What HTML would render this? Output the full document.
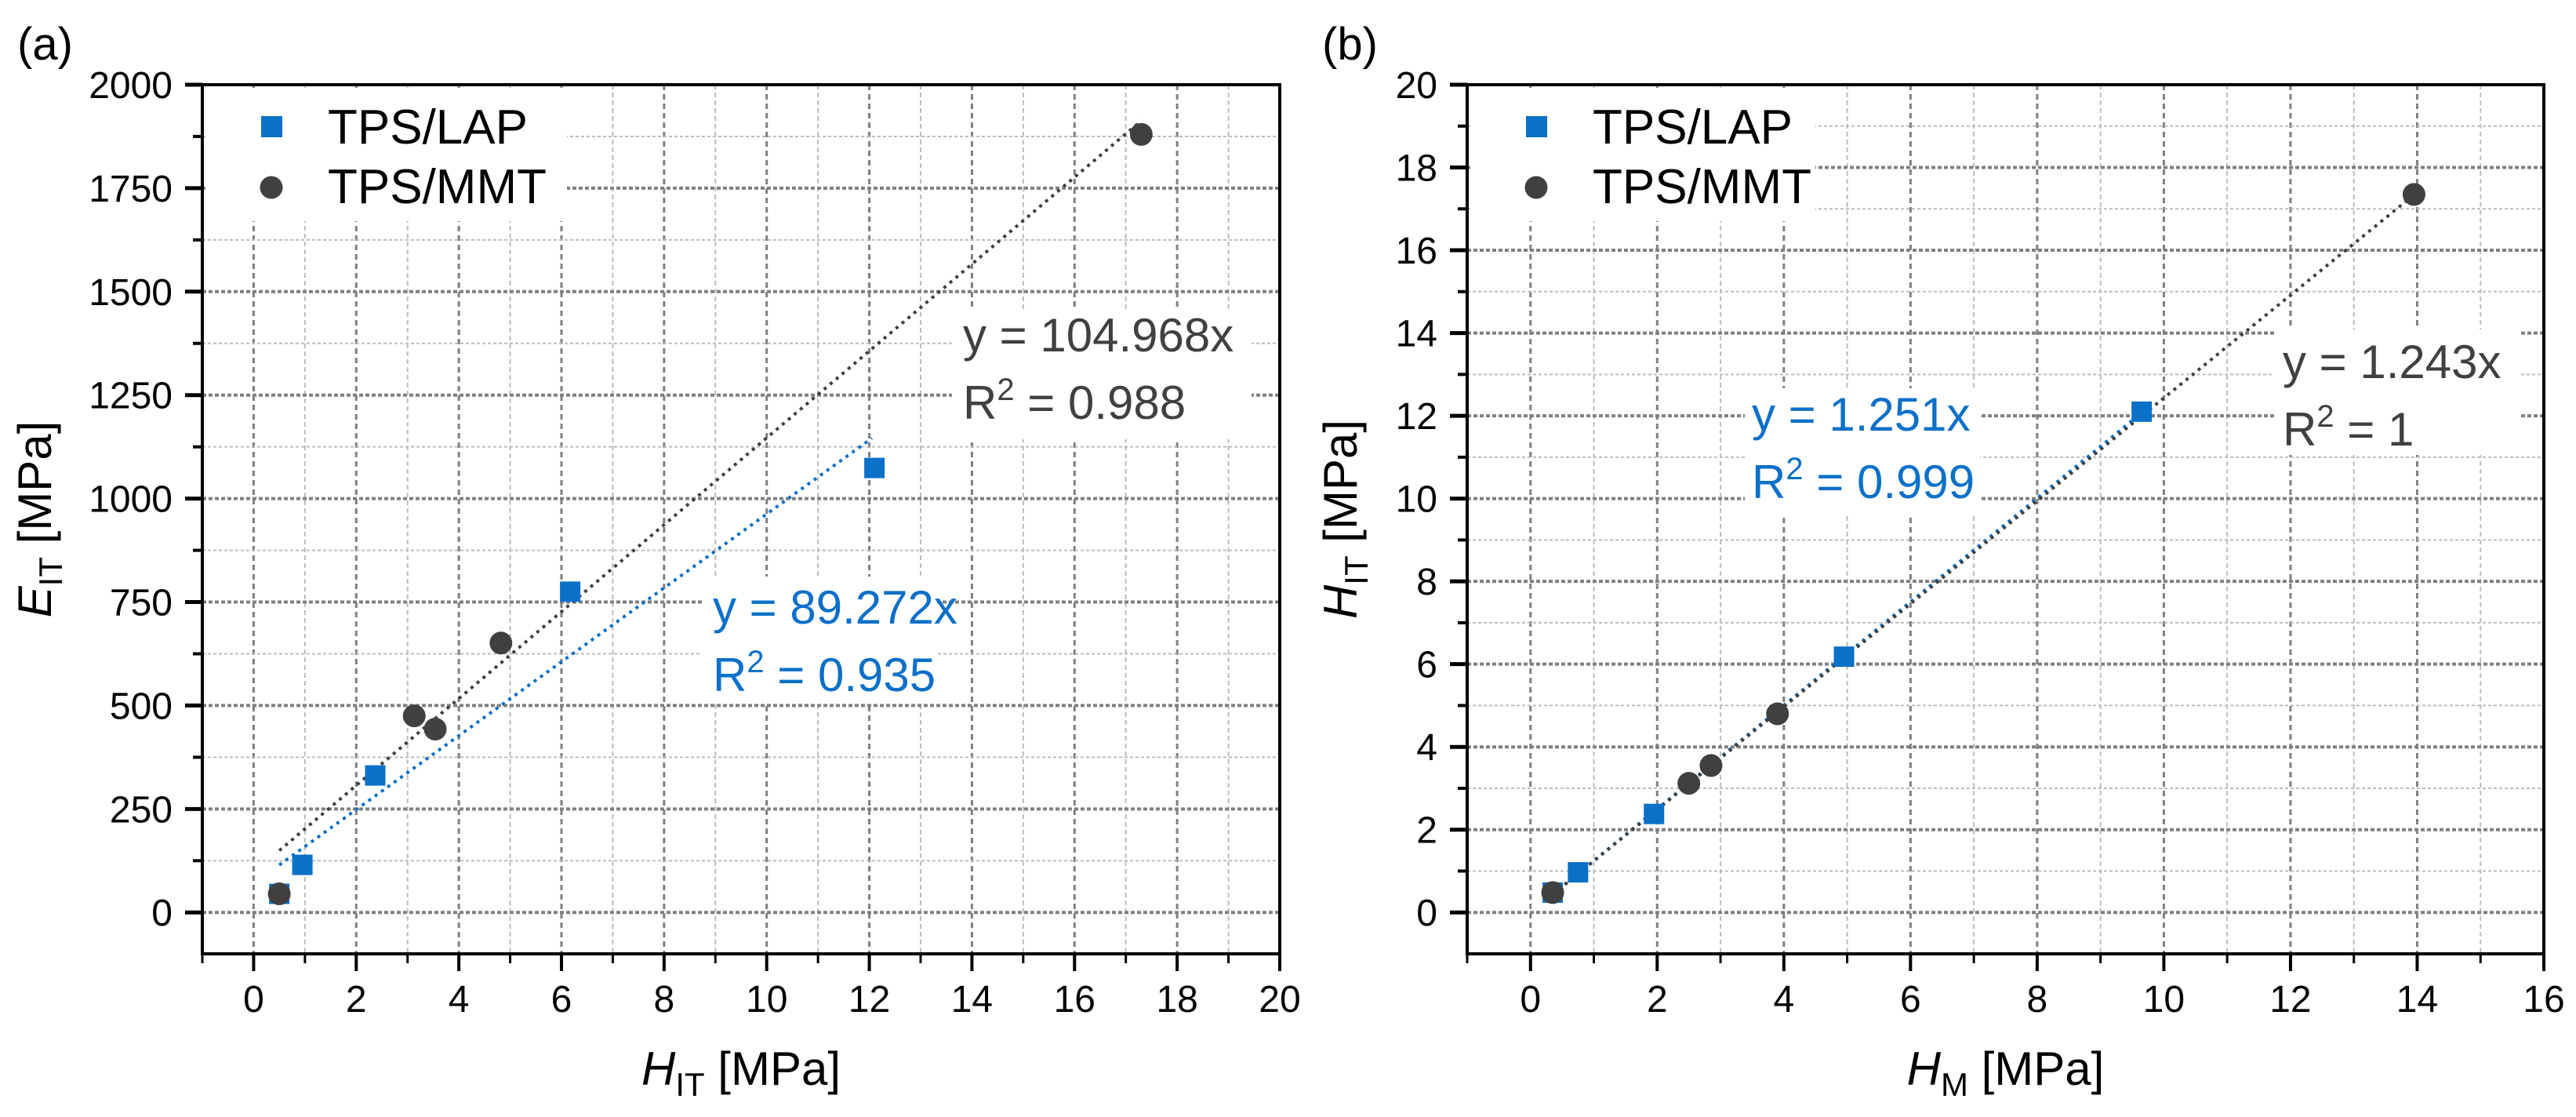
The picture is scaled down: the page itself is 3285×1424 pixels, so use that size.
<!DOCTYPE html>
<html><head><meta charset="utf-8"><style>
html,body{margin:0;padding:0;background:#fff;}
svg{display:block;font-family:"Liberation Sans",Arial,sans-serif;}
</style></head><body>
<svg id="chart" width="3285" height="1424" viewBox="0 0 3285 1424" xmlns="http://www.w3.org/2000/svg">
<rect x="0" y="0" width="3285" height="1424" fill="#fff"/>
<g id="pa"></g>
<g id="pb"></g>
</svg>
<script>
// Panel (a) data
const aLapX = [0.5, 0.95, 2.37, 6.17, 12.1];
const aLapY = [45, 115, 331, 775, 1074];
const aMmtX = [0.5, 3.13, 3.54, 4.82, 17.3];
const aMmtY = [45, 475, 443, 651, 1880];
const aFitLap = [89.272, 70, 0.5, 12.05];   // slope, intercept, xStart, xEnd
const aFitMmt = [104.968, 97, 0.5, 17.3];
const aXTicks = [0,2,4,6,8,10,12,14,16,18,20];
const aYTicks = [0,250,500,750,1000,1250,1500,1750,2000];
// Panel (b) data
const bLapX = [0.35, 0.75, 1.95, 4.95, 9.65];
const bLapY = [0.48, 0.97, 2.38, 6.18, 12.1];
const bMmtX = [0.35, 2.5, 2.85, 3.9, 13.95];
const bMmtY = [0.48, 3.12, 3.55, 4.8, 17.35];
const bFitLap = [1.251, 0, 0.35, 9.65];
const bFitMmt = [1.243, 0, 0.35, 13.95];
const bXTicks = [0,2,4,6,8,10,12,14,16];
const bYTicks = [0,2,4,6,8,10,12,14,16,18,20];

const NS='http://www.w3.org/2000/svg';
const BLUE='#0a70c8', DARK='#404040';
function mk(tag, attrs, parent){const e=document.createElementNS(NS,tag);for(const k in attrs)e.setAttribute(k,attrs[k]);parent.appendChild(e);return e;}

function panel(g, cfg){
  const L=cfg.L,R=cfg.R,T=108,B=1216;
  const sx=v=>L+(v-cfg.x0)/(cfg.x1-cfg.x0)*(R-L);
  const sy=v=>B-(v-cfg.y0)/(cfg.y1-cfg.y0)*(B-T);
  const xs=cfg.xTicks, ys=cfg.yTicks;
  const dx=xs[1]-xs[0], dy=ys[1]-ys[0];
  for(let i=0;i<xs.length;i++){
    const v=xs[i];
    let l=mk('line',{x1:sx(v),x2:sx(v),y1:T,y2:B,stroke:'#808080','stroke-width':3,'stroke-dasharray':'7 5'},g);
    
    
    const m=v+dx/2;
    if(m<cfg.x1){
      let l2=mk('line',{x1:sx(m),x2:sx(m),y1:T,y2:B,stroke:'#bdbdbd','stroke-width':2,'stroke-dasharray':'6 4'},g);
      
      
    }
  }
  for(let i=0;i<ys.length;i++){
    const v=ys[i];
    let l=mk('line',{x1:L,x2:R,y1:sy(v),y2:sy(v),stroke:'#808080','stroke-width':4,'stroke-dasharray':'5 3'},g);
    
    
    const m=v+dy/2;
    if(m<cfg.y1){
      let l2=mk('line',{x1:L,x2:R,y1:sy(m),y2:sy(m),stroke:'#bdbdbd','stroke-width':2,'stroke-dasharray':'4 3'},g);
      
      
    }
  }
  for(const bx of cfg.boxes){mk('rect',{x:bx[0],y:bx[1],width:bx[2],height:bx[3],fill:'#fff'},g);}
  let fr=mk('rect',{x:L,y:T,width:R-L,height:B-T,fill:'none',stroke:'#000','stroke-width':4},g);
  
  
  for(let i=0;i<xs.length;i++){
    const v=xs[i];
    mk('line',{x1:sx(v),x2:sx(v),y1:B,y2:B+22,stroke:'#000','stroke-width':4},g);
    const m=v+dx/2; if(m<cfg.x1) mk('line',{x1:sx(m),x2:sx(m),y1:B,y2:B+12,stroke:'#000','stroke-width':3},g);
    if(i===0){const m0=v-dx/2; if(m0>=cfg.x0) mk('line',{x1:sx(m0),x2:sx(m0),y1:B,y2:B+12,stroke:'#000','stroke-width':3},g);}
    let t=mk('text',{x:sx(v),y:1290,'font-size':48,'text-anchor':'middle',fill:'#000'},g);
    t.textContent=String(v);
    
    
  }
  for(let i=0;i<ys.length;i++){
    const v=ys[i];
    mk('line',{x1:L-22,x2:L,y1:sy(v),y2:sy(v),stroke:'#000','stroke-width':5},g);
    const m=v+dy/2; if(m<cfg.y1) mk('line',{x1:L-12,x2:L,y1:sy(m),y2:sy(m),stroke:'#000','stroke-width':4},g);
    let t=mk('text',{x:L-38,y:sy(v)+17,'font-size':48,'text-anchor':'end',fill:'#000'},g);
    t.textContent=String(v);
    
    
  }
  const fits=[[cfg.fitLap,BLUE,'fit-line-lap'],[cfg.fitMmt,DARK,'fit-line-mmt']];
  for(const f of fits){
    const p=f[0];
    let l=mk('line',{x1:sx(p[2]),y1:sy(p[0]*p[2]+p[1]),x2:sx(p[3]),y2:sy(p[0]*p[3]+p[1]),stroke:f[1],'stroke-width':4,'stroke-dasharray':'4 6'},g);
    
    
  }
  for(let i=0;i<cfg.lapX.length;i++){
    let r=mk('rect',{x:sx(cfg.lapX[i])-13,y:sy(cfg.lapY[i])-13,width:26,height:26,fill:BLUE},g);
    
    
  }
  for(let i=0;i<cfg.mmtX.length;i++){
    let c=mk('circle',{cx:sx(cfg.mmtX[i]),cy:sy(cfg.mmtY[i]),r:14.5,fill:DARK},g);
    
    
  }
  const lg=mk('g',{},g);
  
  
  mk('rect',{x:L+75,y:148,width:27,height:27,fill:BLUE},lg);
  mk('circle',{cx:L+88,cy:239,r:14.5,fill:DARK},lg);
  let t1=mk('text',{x:L+160,y:183,'font-size':62,fill:'#000'},lg); t1.textContent='TPS/LAP';
  let t2=mk('text',{x:L+160,y:259,'font-size':62,fill:'#000'},lg); t2.textContent='TPS/MMT';
  for(const e of cfg.eqs){
    const eg=mk('g',{},g);
    
    
    let a=mk('text',{x:e[0],y:e[1],'font-size':60,fill:e[3]},eg); a.textContent=e[2][0];
    let b=mk('text',{x:e[0],y:e[1]+86,'font-size':60,fill:e[3]},eg);
    b.innerHTML='R<tspan dy="-24" font-size="40">2</tspan><tspan dy="24"> = '+e[2][1]+'</tspan>';
  }
  let xt=mk('text',{x:(L+R)/2,y:1383,'font-size':60,'text-anchor':'middle',fill:'#000'},g);
  xt.innerHTML='<tspan font-style="italic">H</tspan><tspan font-size="42" dy="14">'+cfg.xSub+'</tspan><tspan dy="-14"> [MPa]</tspan>';
  
  
  let yt=mk('text',{x:0,y:0,'font-size':60,'text-anchor':'middle',fill:'#000',transform:'translate('+(cfg.yTitleX+20)+',662) rotate(-90)'},g);
  yt.innerHTML='<tspan font-style="italic">'+cfg.yVar+'</tspan><tspan font-size="42" dy="14">IT</tspan><tspan dy="-14"> [MPa]</tspan>';
  
  
  let pl=mk('text',{x:cfg.labelX,y:76,'font-size':58,fill:'#000'},g);
  pl.textContent=cfg.label;
  
  
}

panel(document.getElementById('pa'),{L:258,R:1632,x0:-1,x1:20,y0:-100,y1:2000,
  xTicks:aXTicks,yTicks:aYTicks,lapX:aLapX,lapY:aLapY,mmtX:aMmtX,mmtY:aMmtY,fitLap:aFitLap,fitMmt:aFitMmt,
  boxes:[[262,112,461,170],[1214,395,382,165],[895,735,300,160]],
  eqs:[[1228,448,['y = 104.968x','0.988'],DARK,'equation-mmt'],[909,795,['y = 89.272x','0.935'],BLUE,'equation-lap']],
  xSub:'IT',yVar:'E',yTitleX:45,label:'(a)',labelX:22});
panel(document.getElementById('pb'),{L:1871,R:3244,x0:-1,x1:16,y0:-1,y1:20,
  xTicks:bXTicks,yTicks:bYTicks,lapX:bLapX,lapY:bLapY,mmtX:bMmtX,mmtY:bMmtY,fitLap:bFitLap,fitMmt:bFitMmt,
  boxes:[[1875,112,440,170],[2225,495,300,160],[2900,420,313,160]],
  eqs:[[2234,549,['y = 1.251x','0.999'],BLUE,'equation-lap'],[2911,482,['y = 1.243x','1'],DARK,'equation-mmt']],
  xSub:'M',yVar:'H',yTitleX:1710,label:'(b)',labelX:1686});
</script>
</body></html>
